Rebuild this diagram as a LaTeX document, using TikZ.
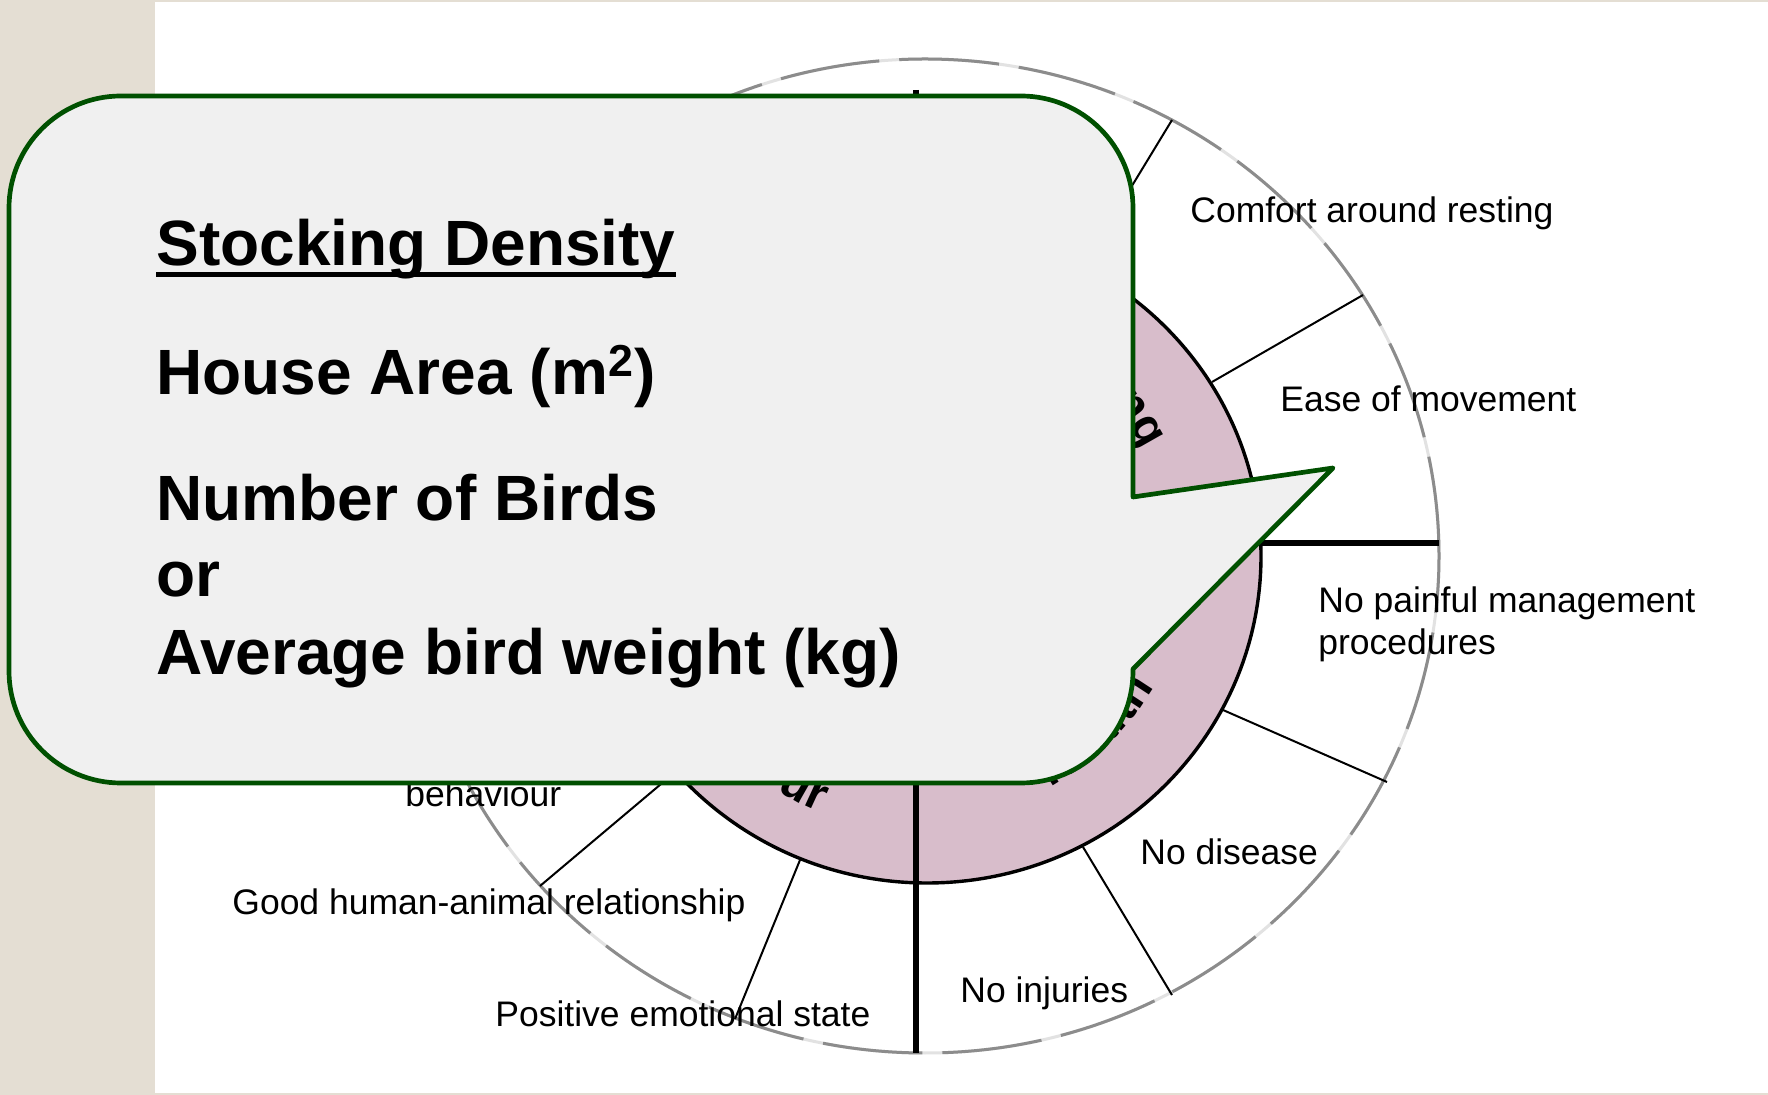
\documentclass[tikz,border=0pt]{standalone}
\usepackage{fontspec}
\setmainfont{Liberation Sans}
\usetikzlibrary{decorations.text}
\definecolor{slidebeige}{RGB}{228,222,211}
\definecolor{wheelpink}{RGB}{216,189,203}
\definecolor{calloutgrey}{RGB}{240,240,240}
\definecolor{calloutgreen}{RGB}{0,80,0}
\definecolor{rimgrey}{RGB}{140,140,140}
\definecolor{rimlight}{RGB}{226,226,226}
\newcommand\ringfont{\fontsize{24}{28}\selectfont\bfseries}

\begin{document}
\begin{tikzpicture}[x=0.5pt, y=0.5pt,
  crit/.style={anchor=base west, inner sep=0pt, font=\fontsize{17.75}{21}\selectfont},
  calltext/.style={anchor=base west, inner sep=0pt, font=\fontsize{32}{38}\selectfont\bfseries},
  spoke/.style={line width=1pt},
  divider/.style={line width=3pt},
  rim/.style={line width=1.5pt}]

  \fill[slidebeige] (0,0) rectangle (1768,-1095);
  \fill[white] (155,-2.5) rectangle (1768,-1093);
  \useasboundingbox (0,0) rectangle (1768,-1095);

  \draw[rim, rimlight, postaction={draw=rimgrey, dash pattern=on 50pt off 10pt}]
    (925,-556) ellipse [x radius=514, y radius=497];
  \filldraw[fill=wheelpink, draw=black, line width=1.7pt]
    (927,-556) ellipse [x radius=334, y radius=327];

  \draw[spoke] (1082,-268) -- (1172,-120);
  \draw[spoke] (1212,-382) -- (1363,-295);
  \draw[spoke] (1223,-710) -- (1387,-782);
  \draw[spoke] (1083,-847) -- (1172,-995);
  \draw[spoke] (800,-860) -- (735,-1019);
  \draw[spoke] (680,-768) -- (540,-886);
  \draw[divider] (412,-543) -- (1439,-543);
  \draw[divider] (916,-90) -- (916,-1053);

  \coordinate (hub) at (927,-556);
  \path[decorate, decoration={text along path, text align=center, text={|\ringfont|Housing}}]
    ([shift={(94:240)}]hub) arc[start angle=94, end angle=4, radius=240];
  \path[decorate, decoration={text along path, text align=center, text={|\ringfont|Health}}]
    ([shift={(269:262)}]hub) arc[start angle=269, end angle=359, radius=262];
  \path[decorate, decoration={text along path, text align=center, text={|\ringfont|Behaviour}}]
    ([shift={(178:278)}]hub) arc[start angle=178, end angle=268, radius=278];

  \node[crit] (resting) at (1190,-223) {Comfort around resting};
  \node[crit] (movement) at (1280,-412) {Ease of movement};
  \node[crit] (painful) at (1318,-613) {No painful management};
  \node[crit] (procedures) at (1318,-655) {procedures};
  \node[crit] (disease) at (1140,-865) {No disease};
  \node[crit] (injuries) at (960,-1002) {No injuries};
  \node[crit] (emotional) at (495,-1027) {Positive emotional state};
  \node[crit] (humananimal) at (232,-915) {Good human-animal relationship};
  \node[crit] (behaviour) at (405,-807) {behaviour};

  \draw[calloutgreen, fill=calloutgrey, line width=2.35pt, line join=round]
    (1133,-497) -- (1333,-468) -- (1133,-669) -- (1133,-671)
    arc[start angle=0, end angle=-90, radius=112] -- (121,-783)
    arc[start angle=-90, end angle=-180, radius=112] -- (9,-208)
    arc[start angle=180, end angle=90, radius=112] -- (1021,-96)
    arc[start angle=90, end angle=0, radius=112] -- cycle;

  \node[calltext] (title) at (156,-266) {Stocking Density};
  \draw[line width=2.5pt] ([yshift=-4.5pt]title.base west) -- ([yshift=-4.5pt]title.base east);
  \node[calltext] (area) at (156,-394.5) {House Area (m\textsuperscript{2})};
  \node[calltext] (birds) at (156,-521) {Number of Birds};
  \node[calltext] (orword) at (156,-596.5) {or};
  \node[calltext] (weight) at (156,-674.6) {Average bird weight (kg)};
\end{tikzpicture}
\end{document}
